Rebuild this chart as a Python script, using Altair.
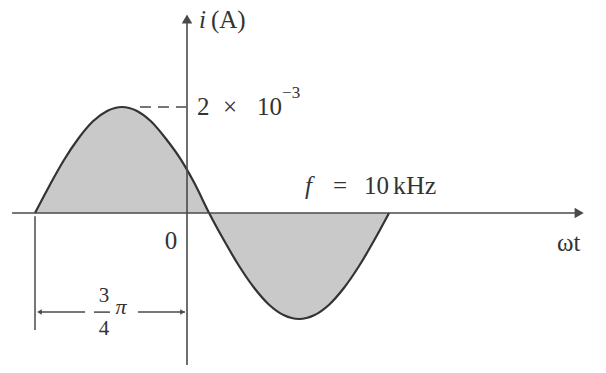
import altair as alt
import pandas as pd

# i(t) = 2e-3 sin(wt + 3pi/4): x in units of pi, current in mA
wt_vals = [-0.75, -0.678, -0.607, -0.535, -0.464, -0.392, -0.321, -0.249, -0.178,
           -0.106, -0.034, 0.037, 0.109, 0.183, 0.257, 0.331, 0.405, 0.479, 0.553,
           0.627, 0.701, 0.775, 0.849, 0.923, 0.997]
i_vals = [0, 0.52, 1.0, 1.41, 1.73, 1.93, 2.0, 1.93, 1.73, 1.41, 1.03, 0.56, 0,
          -0.52, -1.0, -1.41, -1.73, -1.93, -2.0, -1.93, -1.73, -1.41, -1.0, -0.52, 0]

peak = 2.0          # 2 x 10^-3 A
phase = -0.75       # start of the positive half-cycle, -3/4 pi

X_DOM = [-0.9227, 2.0674]
Y_DOM = [-3.019, 4.019]
INK = "#333333"
AXIS = "#4a4a4a"
FONT = "'Times New Roman', 'Liberation Serif', 'DejaVu Serif', serif"

xs = alt.Scale(domain=X_DOM, nice=False, zero=False)
ys = alt.Scale(domain=Y_DOM, nice=False, zero=False)


def X(field="x"):
    return alt.X(f"{field}:Q", scale=xs, axis=None)


def Y(field="y"):
    return alt.Y(f"{field}:Q", scale=ys, axis=None)


wave = pd.DataFrame({"x": wt_vals, "y": i_vals, "base": 0.0})

area = alt.Chart(wave).mark_area(color="#c9c9c9", interpolate="monotone").encode(
    x=X(), y=Y(), y2=alt.Y2("base:Q"))
curve = alt.Chart(wave).mark_line(color=INK, strokeWidth=2.2, interpolate="monotone").encode(
    x=X(), y=Y())

# axes drawn as rules with arrow heads
axes = pd.DataFrame({"x": [-0.863, 0.0], "x2": [1.94, 0.0],
                     "y": [0.0, -2.87], "y2": [0.0, 3.62]})
axis_rules = alt.Chart(axes).mark_rule(color=AXIS, strokeWidth=1.6).encode(
    x=X(), x2="x2:Q", y=Y(), y2="y2:Q")
heads = pd.DataFrame({"x": [1.935, 0.0], "y": [0.0, 3.66],
                      "shape": ["triangle-right", "triangle-up"]})
axis_heads = alt.Chart(heads).mark_point(filled=True, color=AXIS, size=110, opacity=1).encode(
    x=X(), y=Y(), shape=alt.Shape("shape:N", scale=None))

# dashed guide from the peak to the current axis
guide = pd.DataFrame({"x": [-0.232], "x2": [-0.003], "y": [peak], "y2": [peak]})
guide_rule = alt.Chart(guide).mark_rule(color=AXIS, strokeWidth=1.6, strokeDash=[11, 7]).encode(
    x=X(), x2="x2:Q", y=Y(), y2="y2:Q")

# dimension for the 3/4 pi phase shift (witness line, two arrow legs, fraction bar)
dim = pd.DataFrame({
    "x": [phase, phase + 0.02, -0.242, -0.459],
    "x2": [phase, -0.503, -0.01, -0.38],
    "y": [-0.06, -1.87, -1.87, -1.87],
    "y2": [-2.21, -1.87, -1.87, -1.87],
})
dim_rules = alt.Chart(dim).mark_rule(color=AXIS, strokeWidth=1.5).encode(
    x=X(), x2="x2:Q", y=Y(), y2="y2:Q")
dim_heads_df = pd.DataFrame({"x": [phase + 0.022, -0.022], "y": [-1.87, -1.87],
                             "shape": ["triangle-left", "triangle-right"]})
dim_heads = alt.Chart(dim_heads_df).mark_point(filled=True, color=AXIS, size=30, opacity=1).encode(
    x=X(), y=Y(), shape=alt.Shape("shape:N", scale=None))


def label(rows, **style):
    df = pd.DataFrame(rows, columns=["x", "y", "t"])
    props = dict(font=FONT, fontSize=25, color=INK, align="left", baseline="middle")
    props.update(style)
    return alt.Chart(df).mark_text(**props).encode(x=X(), y=Y(), text="t:N")


texts = [
    label([(0.059, 3.64, "i")], fontStyle="italic"),
    label([(0.118, 3.64, "(A)")]),
    label([(0.049, peak, "2")]),
    label([(0.178, peak, "×")]),
    label([(0.345, peak, "10")]),
    label([(0.469, 2.26, "−3")], fontSize=17),
    label([(-0.079, -0.53, "0")], align="center"),
    label([(0.582, 0.51, "f")], fontStyle="italic"),
    label([(0.72, 0.51, "=")]),
    label([(0.873, 0.51, "10")]),
    label([(1.016, 0.51, "kHz")], fontSize=26),
    label([(1.826, -0.566, "ωt")]),
    label([(-0.41, -1.566, "3")], fontSize=21, align="center"),
    label([(-0.41, -2.19, "4")], fontSize=21, align="center"),
    label([(-0.326, -1.77, "π")], fontStyle="italic", fontSize=22, align="center"),
]

chart = alt.layer(
    area, curve, axis_rules, axis_heads, guide_rule, dim_rules, dim_heads, *texts
).properties(
    width=606, height=373, autosize=alt.AutoSizeParams(type="none"), padding=0,
    background="white",
).configure_view(stroke=None)

chart.save("out.html", embed_options={"renderer": "svg", "actions": False})
